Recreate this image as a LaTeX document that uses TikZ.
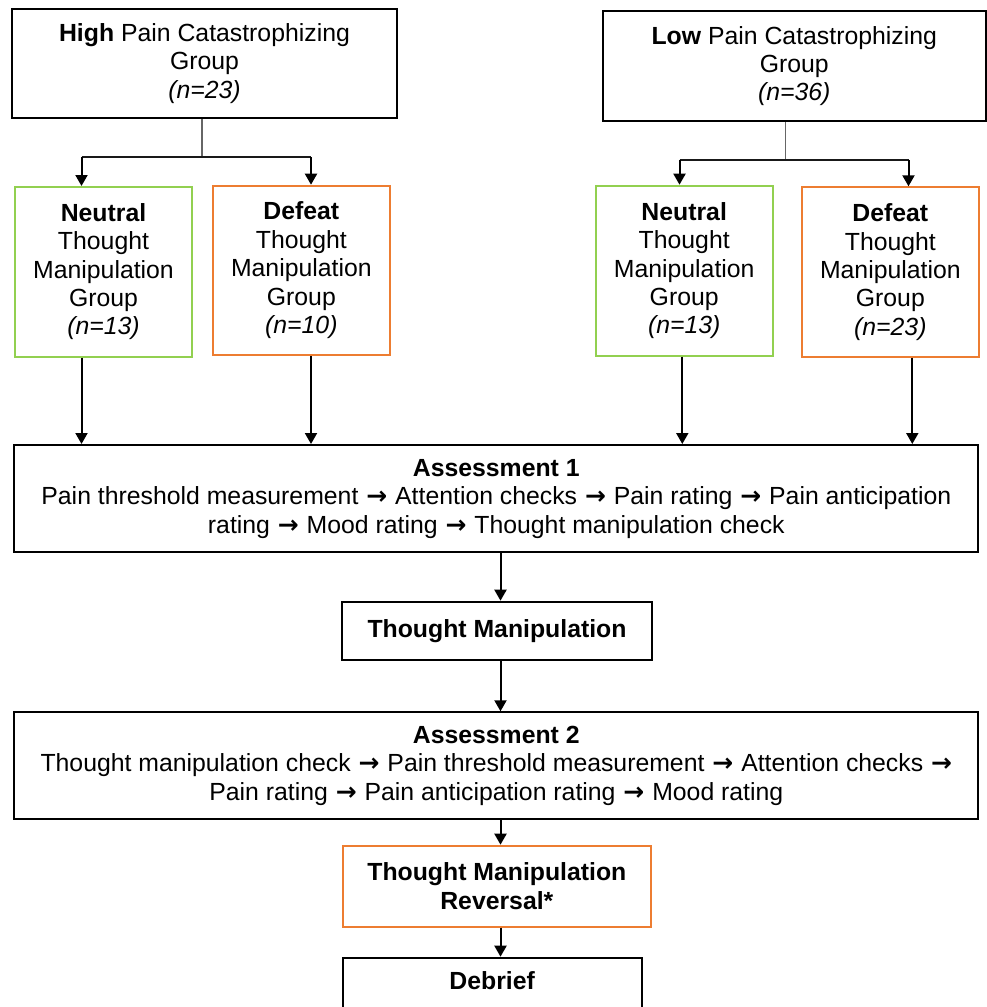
\documentclass[tikz,border=0pt]{standalone}
\usepackage{fontspec}
\setmainfont{Liberation Sans}
\newfontfamily\arrowfont{DejaVu Sans}
\usetikzlibrary{arrows.meta}
\definecolor{tgreen}{HTML}{92D050}
\definecolor{torange}{HTML}{ED7D31}
\newcommand\ra{\hspace{1pt}{\arrowfont\bfseries\fontsize{25}{25}\selectfont →}\hspace{1pt}}
\begin{document}
\begin{tikzpicture}[x=1pt,y=-1pt,
  box/.style={draw=black, line width=2pt, rectangle, inner sep=0pt, align=center,
              font=\fontsize{24.8}{28.4}\selectfont, fill=white},
  gbox/.style={box, draw=tgreen},
  obox/.style={box, draw=torange},
  arr/.style={line width=2pt, -{Triangle[width=12pt,length=11pt]}},
  stemline/.style={line width=1.2pt, draw=black!60},
  barline/.style={line width=1.3pt, draw=black!90}]
\useasboundingbox (0,0) rectangle (987,1007);
\clip (0,0) rectangle (987,1007);

% top group boxes
\node[box, minimum width=385pt, minimum height=109pt] (high) at (204.5,63.5)
  {\textbf{High} Pain Catastrophizing\\Group\\\textit{(n=23)}};
\node[box, minimum width=382.5pt, minimum height=110pt] (low) at (794.25,66)
  {\textbf{Low} Pain Catastrophizing\\Group\\\textit{(n=36)}};

% manipulation groups
\node[gbox, minimum width=177pt, minimum height=169.5pt] (n1) at (103.5,271.75)
  {\textbf{Neutral}\\Thought\\Manipulation\\Group\\\textit{(n=13)}};
\node[obox, minimum width=177.3pt, minimum height=169.3pt] (d1) at (301.35,270.35)
  {\textbf{Defeat}\\Thought\\Manipulation\\Group\\\textit{(n=10)}};
\node[gbox, minimum width=177pt, minimum height=170pt] (n2) at (684.2,270.7)
  {\textbf{Neutral}\\Thought\\Manipulation\\Group\\\textit{(n=13)}};
\node[obox, minimum width=177.3pt, minimum height=169.4pt] (d2) at (890.35,272)
  {\textbf{Defeat}\\Thought\\Manipulation\\Group\\\textit{(n=23)}};

% assessments and steps
\node[box, minimum width=964pt, minimum height=107.3pt] (a1) at (496.3,498.65)
  {\textbf{Assessment 1}\\Pain threshold measurement \ra\ Attention checks \ra\ Pain rating \ra\ Pain anticipation\\rating \ra\ Mood rating \ra\ Thought manipulation check};
\node[box, minimum width=309.4pt, minimum height=58.3pt] (tm) at (497,630.85)
  {\textbf{Thought Manipulation}};
\node[box, minimum width=964pt, minimum height=106.7pt] (a2) at (496.3,765.65)
  {\textbf{Assessment 2}\\Thought manipulation check \ra\ Pain threshold measurement \ra\ Attention checks \ra\\Pain rating \ra\ Pain anticipation rating \ra\ Mood rating};
\node[obox, minimum width=308.3pt, minimum height=81pt] (rev) at (496.85,886.2)
  {\textbf{Thought Manipulation}\\\textbf{Reversal*}};
\node[box, minimum width=299pt, minimum height=54.3pt, text depth=8pt] (deb) at (492.2,984.85)
  {\textbf{Debrief}};

% junction coordinates
\coordinate (hj) at (202,157);
\coordinate (hl) at (81.5,157);
\coordinate (hr) at (311,157);
\coordinate (lj) at (785.7,160);
\coordinate (ll) at (679.5,160);
\coordinate (lr) at (908.5,160);
\coordinate (xn2) at (682.3,0);
\coordinate (xd2) at (912.3,0);
\coordinate (cx) at (500.5,0);

% high group split
\draw[stemline] (hj |- high.south) -- (hj);
\draw[barline] (hl) -- (hr);
\draw[arr] (hl) -- (hl |- n1.north);
\draw[arr] (hr) -- (hr |- d1.north);

% low group split
\draw[stemline] (lj |- low.south) -- (lj);
\draw[barline] (ll) -- (lr);
\draw[arr] (ll) -- (ll |- n2.north);
\draw[arr] (lr) -- (lr |- d2.north);

% groups to assessment 1
\draw[arr] (hl |- n1.south) -- (hl |- a1.north);
\draw[arr] (hr |- d1.south) -- (hr |- a1.north);
\draw[arr] (xn2 |- n2.south) -- (xn2 |- a1.north);
\draw[arr] (xd2 |- d2.south) -- (xd2 |- a1.north);

% main chain
\draw[arr] (cx |- a1.south) -- (cx |- tm.north);
\draw[arr] (cx |- tm.south) -- (cx |- a2.north);
\draw[arr] (cx |- a2.south) -- (cx |- rev.north);
\draw[arr] (cx |- rev.south) -- (cx |- deb.north);
\end{tikzpicture}
\end{document}
